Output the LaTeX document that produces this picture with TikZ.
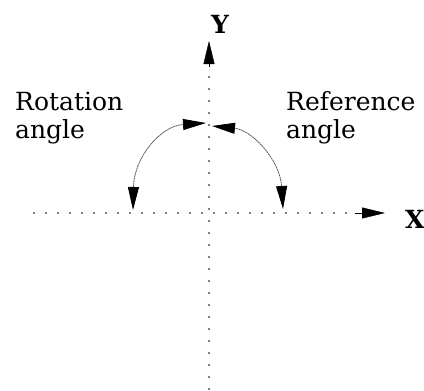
\documentclass[tikz,border=0pt]{standalone}
\usepackage{fontspec}
\setmainfont{DejaVu Serif}
\usetikzlibrary{arrows.meta}
\begin{document}
\begin{tikzpicture}[x=1pt,y=-1pt,
  axisdots/.style={draw=gray, line width=1.5pt, dash pattern=on 1.6pt off 10.4pt},
  bighead/.tip={Triangle[length=23pt,width=11pt,color=black]},
  headtip/.style={-bighead},
  arcline/.style={draw=gray!70!black, line width=0.8pt, dash pattern=on 2pt off 0.6pt},
  lbl/.style={font=\fontsize{25}{28}\selectfont, inner sep=0pt, anchor=base west, align=left},
  axlbl/.style={font=\fontsize{25}{28}\selectfont\bfseries, inner sep=0pt, anchor=base west}]
\useasboundingbox (0,0) rectangle (424,391);
% axes
\coordinate (o) at (210,213);
\coordinate (xl) at (33,213);
\coordinate (xe) at (355,213);
\coordinate (xt) at (385,213);
\coordinate (yb) at (209,390);
\coordinate (ye) at (209,67);
\coordinate (yt) at (209,41);
\draw[axisdots] (xl) -- (xe);
\draw[axisdots] (yb) -- (ye);
\draw[headtip] (xe) -- (xt);
\draw[headtip] (ye) -- (yt);
\node[axlbl] (X) at (405,228) {X};
\node[axlbl] (Y) at (211,33) {Y};
% arcs
\coordinate (la) at (133,210);
\coordinate (lb) at (206,123);
\coordinate (ra) at (283,209);
\coordinate (rb) at (212,126);
\draw[arcline, bighead-bighead]
  (la) .. controls (134,158) and (160,126) .. (lb);
\draw[arcline, bighead-bighead]
  (ra) .. controls (280,160) and (252,130) .. (rb);
% labels
\node[lbl] (rot) at (15,138) {Rotation\\angle};
\node[lbl] (ref) at (286,138) {Reference\\angle};
\end{tikzpicture}
\end{document}
